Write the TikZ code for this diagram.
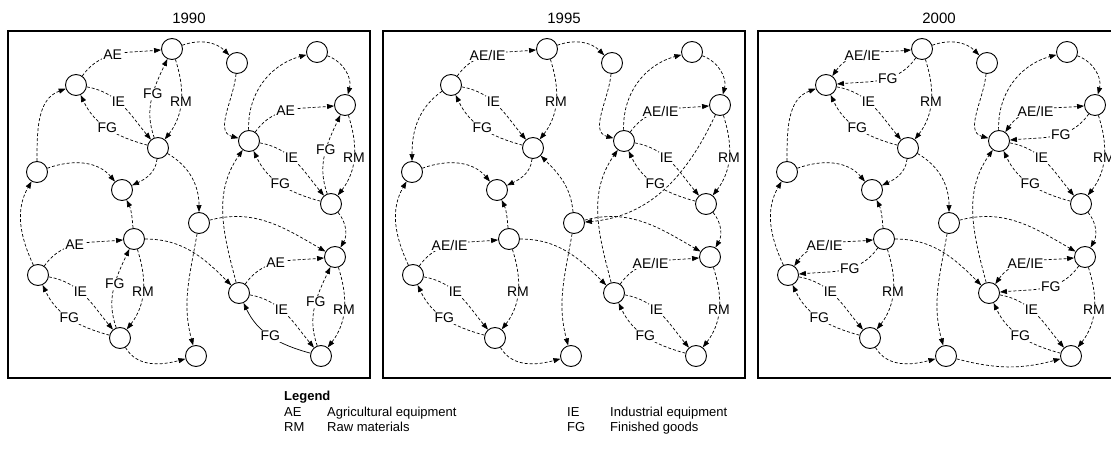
\documentclass[tikz,border=0pt]{standalone}
\usepackage{fontspec}
\setmainfont{Liberation Sans}
\usetikzlibrary{arrows.meta}
\newcommand\mknodes[2]{%
  \foreach \nm/\xx/\yy in {A/172/49,B/76/85,C/158/148,D/37/172,E/122/190,F/237/63,G/317/52,H/345/105,I/249/141,J/331/204,K/199/223,L/335/257,M/239/293,N/321/356,O/196/356,P/134/239,Q/38/275,R/120/338}
    {\node[nd] (#1\nm) at ({\xx+#2},{-\yy}) {};}%
}
% 1990 cluster: left, top, bottom
\newcommand\clNinety[4][cn]{%
  \draw[cn] (#2) to[cLT] node[lbl,pos=.45]{AE} (#3);
  \draw[cn] (#2) to[cLB] node[lbl,pos=.42]{IE} (#4);
  \draw[#1] (#4) to[cBL] node[lbl]{FG} (#2);
  \draw[cn] (#4) to[cBT] node[lbl,pos=.55]{FG} (#3);
  \draw[cn] (#3) to[cTB] node[lbl]{RM} (#4);}
\newcommand\clNinetyFive[3]{%
  \draw[cn] (#1) to[cLT] node[lbl,pos=.45]{AE/IE} (#2);
  \draw[cn] (#1) to[cLB] node[lbl,pos=.42]{IE} (#3);
  \draw[cn] (#3) to[cBL] node[lbl]{FG} (#1);
  \draw[cn] (#2) to[cTB] node[lbl]{RM} (#3);}
\newcommand\clTwoK[3]{%
  \draw[cnb] (#1) to[cLT] node[lbl,pos=.45]{AE/IE} (#2);
  \draw[cn] (#2) to[cTL] node[lbl,pos=.42]{FG} (#1);
  \draw[cn] (#1) to[cLB] node[lbl,pos=.42]{IE} (#3);
  \draw[cn] (#3) to[cBL] node[lbl]{FG} (#1);
  \draw[cn] (#2) to[cTB] node[lbl]{RM} (#3);}
% edges common to all panels
\newcommand\common[1]{%
  \draw[cn] (#1A) to[out=20,in=135] (#1F);
  \draw[cn] (#1F) to[out=-95,in=165] (#1I);
  \draw[cn] (#1I) to[out=92,in=195] (#1G);
  \draw[cn] (#1G) to[out=-20,in=75] (#1H);
  \draw[cn] (#1J) to[out=-50,in=60] (#1L);
  \draw[cn] (#1K) to[out=15,in=150] (#1L);
  \draw[cn] (#1C) to[out=-95,in=25] (#1E);
  \draw[cn] (#1D) to[out=20,in=130] (#1E);
  \draw[cn] (#1P) to[out=95,in=-65] (#1E);
  \draw[cn] (#1Q) to[out=115,in=-120] (#1D);
  \draw[cn] (#1R) to[out=-60,in=195] (#1O);
  \draw[cn] (#1P) to[out=0,in=135] (#1M);
  \draw[cn] (#1K) to[out=-100,in=105] (#1O);
  \draw[cn] (#1M) to[out=105,in=235] (#1I);}
\begin{document}
\begin{tikzpicture}[x=1pt,y=1pt,
  nd/.style={circle,draw,line width=0.9pt,minimum size=21pt,inner sep=0pt},
  cn/.style={dash pattern=on 3pt off 2pt,line width=0.7pt,-{Triangle[length=7pt,width=5pt]}},
  cnb/.style={cn,{Triangle[length=7pt,width=5pt]}-{Triangle[length=7pt,width=5pt]}},
  cs/.style={cn,solid},
  lbl/.style={fill=white,inner sep=1pt,font=\fontsize{14}{14}\selectfont},
  frame/.style={draw,line width=1.3pt},
  ttl/.style={font=\fontsize{15}{15}\selectfont},
  lgd/.style={anchor=base west,inner sep=0pt,font=\fontsize{13}{13}\selectfont},
  cLT/.style={out=55,in=185},
  cLB/.style={out=-10,in=130},
  cBL/.style={out=165,in=-65},
  cBT/.style={out=110,in=-115},
  cTB/.style={out=-72,in=52},
  cTL/.style={out=-125,in=5},
]
\useasboundingbox (0,0) rectangle (1111,-454);
% frames and titles
\draw[frame] (8,-31) rectangle (370,-378);
\draw[frame] (383,-31) rectangle (745,-378);
\draw[frame] (758,-31) rectangle (1120,-378);
\node[ttl] (t1) at (189,-18) {1990};
\node[ttl] (t2) at (564,-18) {1995};
\node[ttl] (t3) at (939,-18) {2000};
% nodes
\mknodes{a}{0}
\mknodes{b}{375}
\mknodes{c}{750}
% 1990
\clNinety{aB}{aA}{aC}
\clNinety{aI}{aH}{aJ}
\clNinety{aQ}{aP}{aR}
\clNinety[cs]{aM}{aL}{aN}
\common{a}
\draw[cn] (aD) to[out=90,in=200] (aB);
\draw[cn] (aC) to[out=-30,in=90] (aK);
% 1995
\clNinetyFive{bB}{bA}{bC}
\clNinetyFive{bI}{bH}{bJ}
\clNinetyFive{bQ}{bP}{bR}
\clNinetyFive{bM}{bL}{bN}
\common{b}
\draw[cn] (bB) to[out=215,in=90] (bD);
\draw[cn] (bK) to[out=95,in=-45] (bC);
\draw[cn] (bH) to[out=-115,in=5] (bK);
% 2000
\clTwoK{cB}{cA}{cC}
\clTwoK{cI}{cH}{cJ}
\clTwoK{cQ}{cP}{cR}
\clTwoK{cM}{cL}{cN}
\common{c}
\draw[cn] (cD) to[out=90,in=200] (cB);
\draw[cn] (cC) to[out=-30,in=90] (cK);
\draw[cn] (cO) to[out=-15,in=195] (cN);
% legend
\node[lgd,font=\bfseries\fontsize{13}{13}\selectfont] (lg) at (284,-400) {Legend};
\node[lgd] (l1) at (284,-416) {AE};
\node[lgd] (l2) at (327,-416) {Agricultural equipment};
\node[lgd] (l3) at (567,-416) {IE};
\node[lgd] (l4) at (610,-416) {Industrial equipment};
\node[lgd] (l5) at (284,-431) {RM};
\node[lgd] (l6) at (327,-431) {Raw materials};
\node[lgd] (l7) at (567,-431) {FG};
\node[lgd] (l8) at (610,-431) {Finished goods};
\end{tikzpicture}
\end{document}
